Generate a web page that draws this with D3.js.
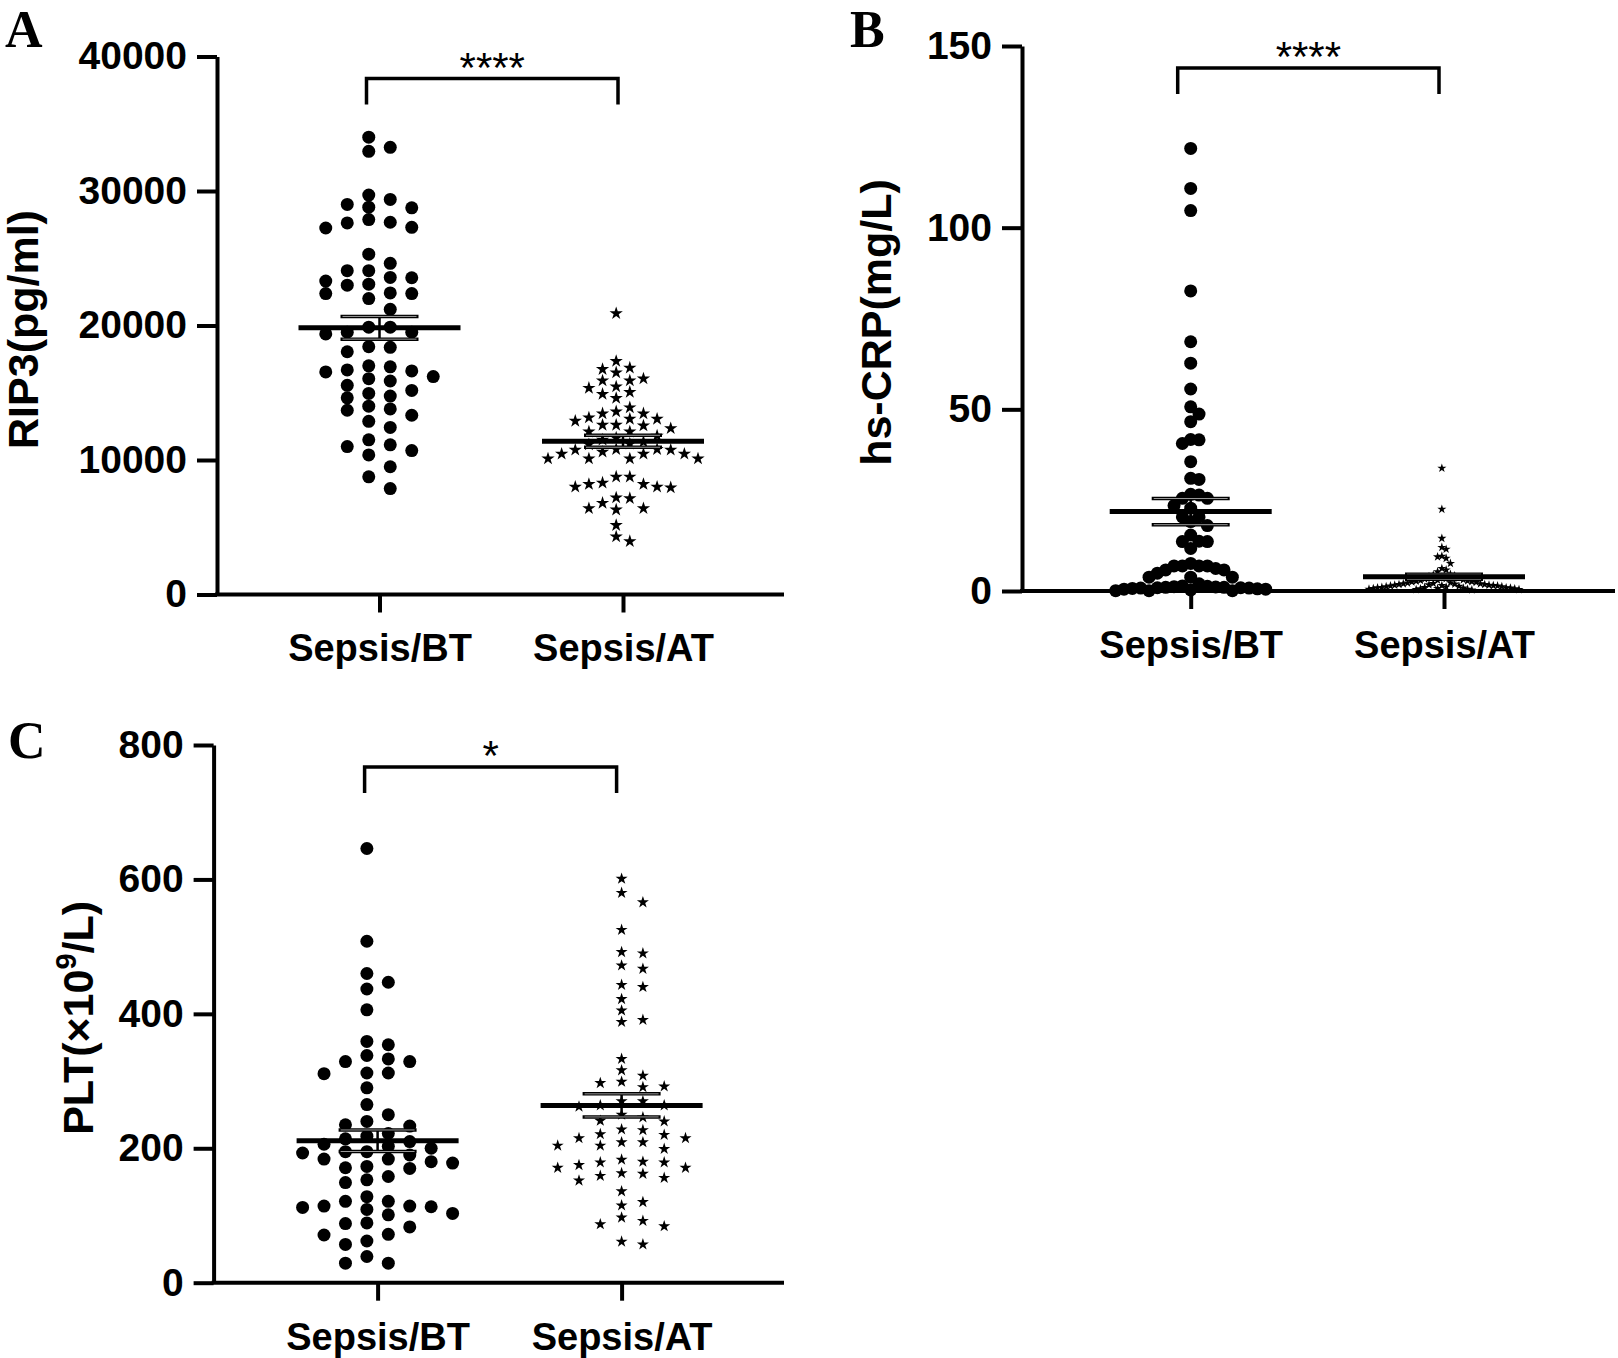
<!DOCTYPE html>
<html>
<head>
<meta charset="utf-8">
<script src="https://cdn.jsdelivr.net/npm/d3@7"></script>
<style>
  body { margin: 0; background: #fff; }
  svg text { font-family: "Liberation Sans", Arial, sans-serif; }
  svg text.letter { font-family: "Liberation Serif", "Times New Roman", serif; font-weight: bold; }
</style>
</head>
<body>
<svg id="fig" width="1618" height="1358"></svg>
<script>
// ---- data ----
var groups = ["Sepsis/BT", "Sepsis/AT"];

var rip3BT = [34000, 33250, 32950, 29700, 29375, 29000, 28800, 28750, 27875, 27675, 27625, 27300, 27250,
  25300, 24625, 24075, 24075, 23575, 23550, 23300, 23075, 23000, 22425, 22375, 22375, 22000, 21200,
  19875, 19875, 19500, 19500, 19375, 18425, 18375, 18050, 17000, 16925, 16700, 16625, 16550, 16200,
  16050, 15875, 15550, 15175, 14950, 14750, 14625, 14000, 13800, 13700, 13325, 12875, 12425,
  11500, 11125, 11000, 10700, 10375, 9500, 8750, 7875];
var rip3AT = [20900, 17350, 16850, 16750, 16500, 16050, 15900, 15900, 15450, 15350, 15050, 14900, 14600,
  13900, 13600, 13450, 13450, 13150, 13050, 13050, 12900, 12600, 12600, 12550, 12350, 12100, 12100,
  11800, 11650, 11500, 11350, 11200, 11150, 10800, 10800, 10750, 10750, 10600, 10450, 10450, 10450,
  10100, 10100, 10100, 10100, 8750, 8750, 8300, 8200, 8200, 8000, 8000, 7950, 7200, 7150,
  6800, 6400, 6400, 6300, 5150, 4300, 3950];

var crpBT = [121.8, 110.8, 104.7, 82.6, 68.6, 62.7, 55.6, 50.7, 48.7, 46.6, 41.7, 41.6, 40.6, 35.6, 31.0, 30.7,
  26.6, 26.4, 25.5, 25.5, 23.5, 22.8, 20.4, 20.4, 19.1, 18.0, 15.4, 13.7, 13.6, 13.6, 11.7,
  7.6, 6.9, 6.9, 6.9, 6.9, 6.2, 5.8, 5.8, 4.9, 3.8, 3.8, 3.8, 2.0,
  1.4, 1.3, 1.2, 1.1, 1.0, 1.0, 0.9, 0.9, 0.8, 0.8, 0.7, 0.6, 0.5, 0.5, 0.3, 0.1, 0.1, 0.1];
var crpAT = [33.8, 22.5, 14.5, 12.0, 11.5, 9.6, 9.4, 9.0, 7.6, 6.2, 5.8, 5.3,
  4.6, 4.4, 4.2, 4.0, 3.8, 3.6, 3.4, 3.3, 3.1, 3.0, 2.9, 2.8, 2.7, 2.6, 2.5, 2.4, 2.3, 2.2, 2.1, 2.0,
  2.0, 1.9, 1.8, 1.8, 1.7, 1.6, 1.6, 1.5, 1.5, 1.4, 1.4, 1.3, 1.2, 1.2, 1.1, 1.0, 1.0, 0.9, 0.9, 0.8,
  0.8, 0.7, 0.7, 0.6, 0.6, 0.5, 0.5, 0.4, 0.4, 0.3];

var pltBT = [646, 508, 460, 447, 437, 406, 359, 354, 338, 333, 329, 329, 312, 312, 311, 290, 265,
  250, 240, 235, 233, 222, 218, 214, 210, 206, 200, 203, 195, 195, 193, 190, 184, 184,
  180, 178, 173, 171, 170, 158, 153, 149, 128, 121, 121, 114, 114, 113, 112, 109, 103,
  101, 89, 88, 83, 72, 71, 62, 57, 39, 29, 29];
var pltAT = [601, 580, 566, 525, 492, 490, 472, 467, 443, 440, 422, 405, 391, 388,
  333, 316, 308, 299, 297, 292, 291, 270, 270, 264, 264, 262, 250, 246, 241, 240,
  228, 227, 221, 220, 215, 215, 209, 209, 204, 204, 199, 183, 180, 179, 179, 175, 171,
  171, 163, 162, 159, 156, 152, 136, 120, 115, 97, 92, 87, 84, 61, 57];

var rip3Ticks = [0, 10000, 20000, 30000, 40000];
var crpTicks = [0, 50, 100, 150];
var pltTicks = [0, 200, 400, 600, 800];
var sigMarks = ["****", "****", "*"];
var panelLetters = ["A", "B", "C"];

// ---- layout ----
var panels = [
  { letter: panelLetters[0], bt: rip3BT, at: rip3AT, ticks: rip3Ticks, sig: sigMarks[0],
    x0: 217, x1: 784, yBottom: 594.5, yTop: 56.5, cx: [162.5, 406],
    titleX: 38, letterX: 5, letterY: 47, starSize: 55,
    swarmBT: { d: 12, step: 21.5 }, swarmAT: { d: 11, step: 14 } },
  { letter: panelLetters[1], bt: crpBT, at: crpAT, ticks: crpTicks, sig: sigMarks[1],
    x0: 1022, x1: 1615, yBottom: 591, yTop: 46, cx: [168.7, 422],
    titleX: 891, letterX: 850, letterY: 47, starSize: 26,
    swarmBT: { d: 12, step: 21.5 }, swarmAT: { d: 8, step: 14 } },
  { letter: panelLetters[2], bt: pltBT, at: pltAT, ticks: pltTicks, sig: sigMarks[2],
    x0: 213.6, x1: 784, yBottom: 1282.7, yTop: 745, cx: [164, 408],
    titleX: 93, letterX: 8, letterY: 758, starSize: 45,
    swarmBT: { d: 12.3, step: 21.5 }, swarmAT: { d: 11, step: 21.3 } }
];

var svg = d3.select("#fig");

// simple column beeswarm: each column keeps points at least d px apart vertically
function swarm(values, y, d, step, maxWidth) {
  var pts = values.map(function(v) { return { v: v, py: y(v) }; })
    .sort(function(a, b) { return a.py - b.py; });
  var cols = {};
  pts.forEach(function(p) {
    for (var k = 0; ; k++) {
      var c = k === 0 ? 0 : (k % 2 ? (k + 1) / 2 : -k / 2);
      var list = cols[c] || (cols[c] = []);
      if (list.every(function(q) { return Math.abs(q - p.py) >= d; })) {
        list.push(p.py); p.col = c; break;
      }
    }
  });
  var lo = d3.min(pts, function(p) { return p.col; });
  var hi = d3.max(pts, function(p) { return p.col; });
  var mid = (lo + hi) / 2;
  var s = hi > lo ? Math.min(step, maxWidth / (hi - lo)) : step;
  pts.forEach(function(p) { p.dx = (p.col - mid) * s; });
  return pts;
}

panels.forEach(function(P, pi) {
  var g = svg.append("g");
  var y = d3.scaleLinear().domain([0, d3.max(P.ticks)]).range([P.yBottom, P.yTop]);
  var x = d3.scalePoint().domain(groups).range([P.x0 + P.cx[0], P.x0 + P.cx[1]]);

  // y axis
  var ya = g.append("g").attr("transform", "translate(" + P.x0 + ",0)")
    .call(d3.axisLeft(y).tickValues(P.ticks).tickSize(20).tickSizeOuter(0).tickPadding(10)
      .tickFormat(d3.format("d")));
  ya.select(".domain").attr("stroke-width", 4);
  ya.selectAll(".tick line").attr("stroke-width", 4);
  ya.selectAll(".tick text").attr("font-size", 39).attr("font-weight", "bold")
    .attr("font-family", "Liberation Sans, Arial, sans-serif").attr("fill", "#000");

  // x axis
  var xa = g.append("g").attr("transform", "translate(0," + P.yBottom + ")")
    .call(d3.axisBottom(x).tickSize(18).tickPadding(22));
  xa.select(".domain").remove();
  xa.selectAll(".tick line").attr("stroke-width", 4);
  xa.selectAll(".tick text").attr("font-size", 38).attr("font-weight", "bold")
    .attr("font-family", "Liberation Sans, Arial, sans-serif").attr("fill", "#000");
  g.append("line").attr("x1", P.x0 - 2).attr("x2", P.x1)
    .attr("y1", P.yBottom).attr("y2", P.yBottom)
    .attr("stroke", "#000").attr("stroke-width", 4);

  // y title
  var tY = (P.yTop + P.yBottom) / 2 + 4;
  var title = g.append("text")
    .attr("transform", "translate(" + P.titleX + "," + tY + ") rotate(-90)")
    .attr("text-anchor", "middle").attr("font-size", 43).attr("font-weight", "bold");
  if (pi === 0) title.text("RIP3(pg/ml)");
  if (pi === 1) title.text("hs-CRP(mg/L)");
  if (pi === 2) {
    title.append("tspan").text("PLT(\u00d710");
    title.append("tspan").attr("dy", -17).attr("font-size", 29).text("9");
    title.append("tspan").attr("dy", 17).text("/L)");
  }

  // panel letter
  g.append("text").attr("class", "letter").attr("x", P.letterX).attr("y", P.letterY)
    .attr("font-size", 52).text(P.letter);

  // significance bracket
  var bx0 = x(groups[0]) - 13, bx1 = x(groups[1]) - 5;
  var by = P.yTop + 22, byLeg = P.yTop + 48;
  g.append("path")
    .attr("d", "M" + bx0 + "," + byLeg + "V" + by + "H" + bx1 + "V" + byLeg)
    .attr("fill", "none").attr("stroke", "#000").attr("stroke-width", 3.5);
  g.append("text").attr("x", (bx0 + bx1) / 2).attr("y", by + 3)
    .attr("text-anchor", "middle").attr("font-size", 42).text(P.sig);

  // points
  var btPts = swarm(P.bt, y, P.swarmBT.d, P.swarmBT.step, 150);
  var atPts = swarm(P.at, y, P.swarmAT.d, P.swarmAT.step, 150);
  var cBT = x(groups[0]), cAT = x(groups[1]);
  g.append("g").selectAll("circle").data(btPts).enter().append("circle")
    .attr("cx", function(d) { return cBT + d.dx; })
    .attr("cy", function(d) { return d.py; })
    .attr("r", 6.5).attr("fill", "#000");
  var star = d3.symbol().type(d3.symbolStar).size(P.starSize);
  g.append("g").selectAll("path").data(atPts).enter().append("path")
    .attr("d", star)
    .attr("transform", function(d) { return "translate(" + (cAT + d.dx) + "," + d.py + ")"; })
    .attr("fill", "#000");

  // mean +/- SEM
  [P.bt, P.at].forEach(function(vals, gi) {
    var cx = x(groups[gi]);
    var m = d3.mean(vals), sem = d3.deviation(vals) / Math.sqrt(vals.length);
    var eg = g.append("g");
    eg.append("line").attr("x1", cx).attr("x2", cx).attr("y1", y(m + sem)).attr("y2", y(m - sem))
      .attr("stroke", "#000").attr("stroke-width", 2.5);
    [m + sem, m - sem].forEach(function(v) {
      eg.append("line").attr("x1", cx - 39).attr("x2", cx + 39).attr("y1", y(v)).attr("y2", y(v))
        .attr("stroke", "#000").attr("stroke-width", 3.5);
      eg.append("line").attr("x1", cx - 37).attr("x2", cx + 37).attr("y1", y(v)).attr("y2", y(v))
        .attr("stroke", "#999").attr("stroke-width", 1);
    });
    eg.append("line").attr("x1", cx - 81).attr("x2", cx + 81).attr("y1", y(m)).attr("y2", y(m))
      .attr("stroke", "#000").attr("stroke-width", 5);
  });
});
</script>
</body>
</html>
